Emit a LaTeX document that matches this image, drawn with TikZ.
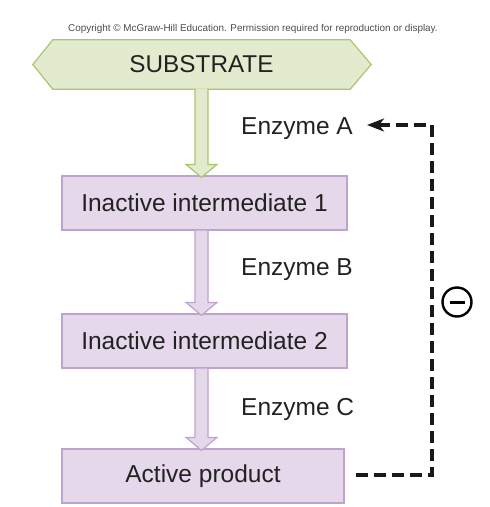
\documentclass[tikz,border=0pt]{standalone}
\usepackage{fontspec}
\setmainfont{Liberation Sans}
\usetikzlibrary{calc,arrows.meta}
\definecolor{gfill}{HTML}{E2EBCD}
\definecolor{gdraw}{HTML}{A8C66E}
\definecolor{pfill}{HTML}{E6D8EB}
\definecolor{pdraw}{HTML}{BFA3CD}
\definecolor{txt}{HTML}{222222}
\tikzset{
  stepbox/.style={draw=pdraw, fill=pfill, line width=1.2pt, minimum width=285pt, minimum height=54pt, inner sep=0pt, text=txt, font=\fontsize{24.5}{28}\selectfont},
  lbl/.style={text=txt, font=\fontsize{24.5}{28}\selectfont, inner sep=0pt},
  fatarrow/.style={line width=1.2pt, line join=miter},
  inhib/.style={draw=black!90, line width=3.2pt, dash pattern=on 12pt off 6pt}
}
\newcommand{\fatarr}[4]{% from, to, fill, draw
  \draw[fatarrow, fill=#3, draw=#4]
    ($(#1)+(-6.5,0)$) -- ($(#2)+(-6.5,-11)$) -- ($(#2)+(-15.5,-11)$) -- ($(#2)+(0,2)$)
    -- ($(#2)+(15.5,-11)$) -- ($(#2)+(6.5,-11)$) -- ($(#1)+(6.5,0)$);
}
\begin{document}
\begin{tikzpicture}[x=1pt,y=-1pt]
\useasboundingbox (0,0) rectangle (490,507);
\node[text=black!70, font=\fontsize{9.9}{11}\selectfont, inner sep=0pt] (copy) at (253,29) {Copyright © McGraw-Hill Education. Permission required for reproduction or display.};
% substrate
\node[minimum width=297pt, minimum height=49pt, inner sep=0pt] (sub) at (201.5,64.5) {};
\draw[draw=gdraw, fill=gfill, line width=1.2pt]
  (sub.north west) -- (sub.north east) -- ($(sub.east)+(21,0)$) -- (sub.south east)
  -- (sub.south west) -- ($(sub.west)+(-20,0)$) -- cycle;
\node[text=txt, font=\fontsize{24.3}{29}\selectfont, inner sep=0pt] (subt) at (sub.center) {SUBSTRATE};
% boxes
\node[stepbox] (b1) at (204.5,203) {Inactive intermediate 1};
\node[stepbox] (b2) at (204.5,341) {Inactive intermediate 2};
\node[stepbox, minimum width=282pt] (b3) at (203,476) {Active product};
% arrows
\coordinate (g0) at ($(sub.south)+(0,-0.6)$);
\coordinate (g1) at ($(b1.north)+(-3,0)$);
\fatarr{g0}{g1}{gfill}{gdraw}
\coordinate (p0) at ($(b1.south)+(-3,0)$);
\coordinate (p1) at ($(b2.north)+(-3,0)$);
\fatarr{p0}{p1}{pfill}{pdraw}
\coordinate (q0) at ($(b2.south)+(-3,0)$);
\coordinate (q1) at (q0 |- b3.north);
\fatarr{q0}{q1}{pfill}{pdraw}
% enzyme labels
\node[lbl, anchor=west] (ea) at (241,129) {Enzyme A};
\node[lbl, anchor=west] (eb) at (241,270) {Enzyme B};
\node[lbl, anchor=west] (ec) at (241,409) {Enzyme C};
% feedback inhibition
\coordinate (c1) at (432,475);
\coordinate (c2) at (432,125);
\draw[inhib, -{Stealth[length=17pt,width=13pt,inset=5pt]}] ($(b3.east)+(11,-1)$) -- (c1) -- (c2) -- ($(ea.east)+(14,-4)$);
\node[circle, draw=black, line width=2.4pt, minimum size=29pt, inner sep=0pt] (minus) at (457,302) {};
\draw[line width=3pt] ($(minus.center)+(-7.5,0)$) -- ($(minus.center)+(7.5,0)$);
\end{tikzpicture}
\end{document}
